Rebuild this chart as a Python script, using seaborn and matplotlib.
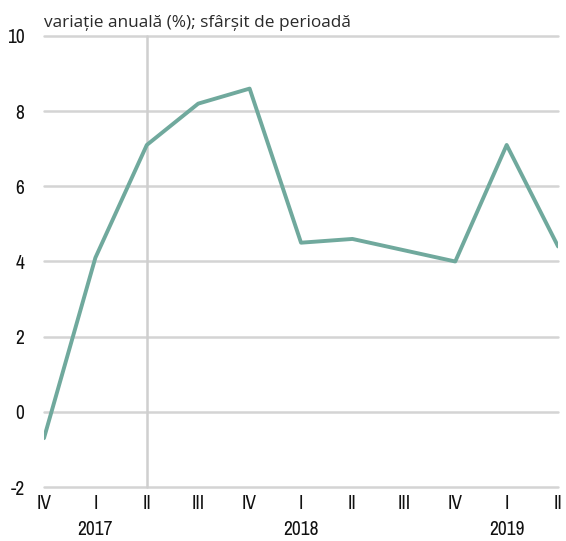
import numpy as np
import pandas as pd
import matplotlib
matplotlib.use("Agg")
import matplotlib.pyplot as plt
import matplotlib.transforms as mtransforms
from matplotlib import font_manager
import seaborn as sns

# Quarterly annual change, end of period
quarters = ["IV", "I", "II", "III", "IV", "I", "II", "III", "IV", "I", "II"]
values = [-0.7, 4.1, 7.1, 8.2, 8.6, 4.5, 4.6, 4.3, 4.0, 7.1, 4.4]
years = ["2017", "2018", "2019"]
year_positions = [1, 5, 9]
y_ticks = [-2, 0, 2, 4, 6, 8, 10]
title = "variație anuală (%); sfârșit de perioadă"

sns.set_theme(style="white")
installed = sorted({f.name for f in font_manager.fontManager.ttflist})
if "Liberation Sans Narrow" in installed:
    narrow = "Liberation Sans Narrow"
else:
    narrow_candidates = [n for n in installed if "Narrow" in n or "Condensed" in n]
    narrow = narrow_candidates[0] if narrow_candidates else "DejaVu Sans"
plt.rcParams["font.family"] = ["Open Sans", "DejaVu Sans"]

df = pd.DataFrame({"pos": np.arange(len(values)), "value": values})

fig = plt.figure(figsize=(5.66, 5.41), dpi=100)
ax = fig.add_axes([0.0777, 0.0998, 0.9083, 0.8337])

for y in y_ticks:
    ax.axhline(y, color="#d4d4d4", lw=1.8, zorder=1, clip_on=False)
ax.axvline(2, color="#cfcfcf", lw=1.8, zorder=1, clip_on=False)

sns.lineplot(data=df, x="pos", y="value", ax=ax, color="#70a99d", lw=2.8,
             zorder=3, legend=False)

tick_font = dict(fontfamily=narrow, fontsize=14, color="#111111")
ax.set_xlim(0, len(values) - 1)
ax.set_ylim(-2, 10)
ax.set_yticks(y_ticks)
ax.set_yticklabels([str(v) for v in y_ticks], **tick_font)
ax.set_xticks(df["pos"])
ax.set_xticklabels(quarters, **tick_font)
ax.tick_params(axis="y", length=0, pad=14)
ax.tick_params(axis="x", length=0, pad=5)
for s in ax.spines.values():
    s.set_visible(False)
ax.set_xlabel("")
ax.set_ylabel("")

trans = mtransforms.blended_transform_factory(ax.transData, ax.transAxes)
for yr, p in zip(years, year_positions):
    ax.text(p, -0.095, yr, transform=trans, ha="center", va="center", **tick_font)

ax.text(0, 1.01, title, transform=ax.transAxes, ha="left", va="bottom",
        fontsize=12.4, color="#2a2a2a")

fig.savefig("out.png", dpi=100)
